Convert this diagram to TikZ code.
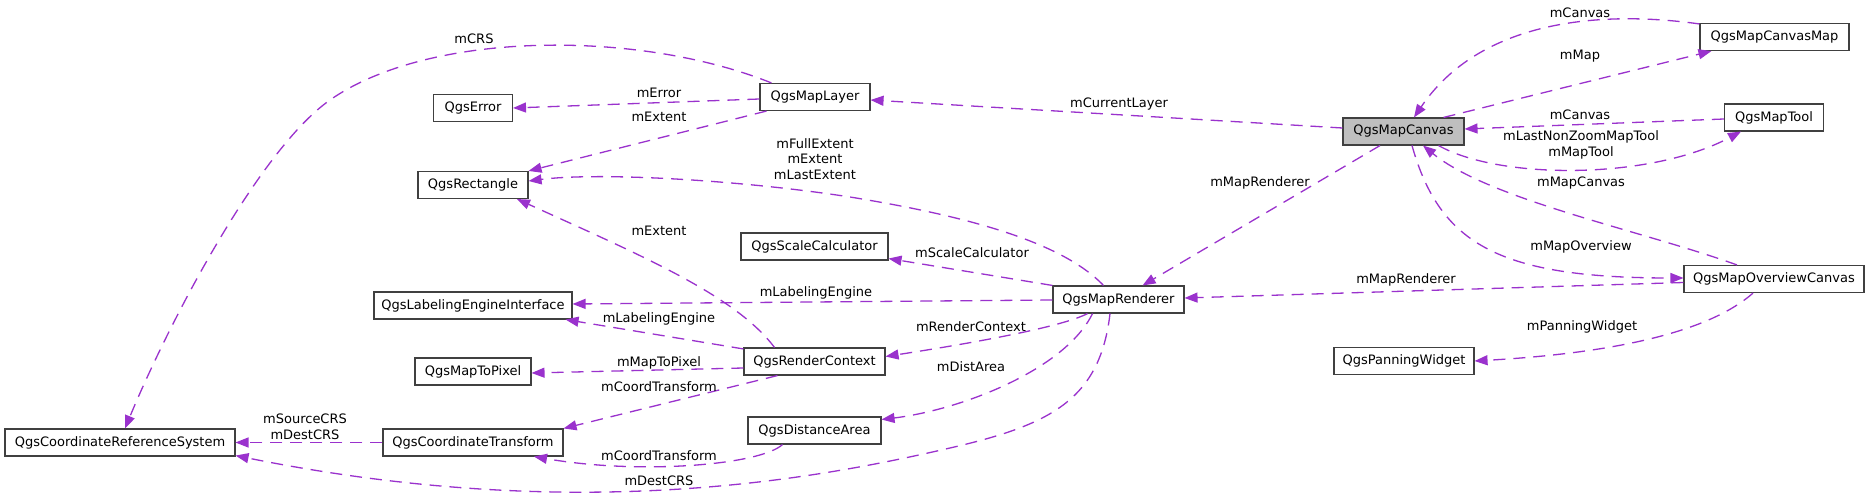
\documentclass[tikz,border=0pt]{standalone}
\usepackage{fontspec}
\setmainfont{DejaVu Sans}
\usetikzlibrary{arrows.meta,calc}
\definecolor{edgec}{HTML}{9A32CD}
\definecolor{boxc}{HTML}{404040}
\definecolor{mcfill}{HTML}{BFBFBF}
\begin{document}
\begin{tikzpicture}[x=1pt,y=-1pt,
  cls/.style={draw=boxc, fill=white, line width=1.1pt, minimum height=27pt, inner sep=0pt, font=\fontsize{13}{15.5}\selectfont, text=black},
  use/.style={draw=edgec, line width=1.3pt, dash pattern=on 12pt off 8pt, -{Triangle[length=13pt,width=10pt,fill=edgec]}},
  lbl/.style={font=\fontsize{13}{15.5}\selectfont, align=center, inner sep=0pt, text=black}
]
\useasboundingbox[fill=white] (0,0) rectangle (1869,500);

% classes
\node[cls, minimum width=230pt] (crs) at (120,442.5) {QgsCoordinateReferenceSystem};
\node[cls, minimum width=79pt] (err) at (473,108) {QgsError};
\node[cls, minimum width=110pt] (rect) at (473,185) {QgsRectangle};
\node[cls, minimum width=198pt] (lei) at (473,305.5) {QgsLabelingEngineInterface};
\node[cls, minimum width=116pt] (m2p) at (473,371.5) {QgsMapToPixel};
\node[cls, minimum width=180pt] (ct) at (473,442.5) {QgsCoordinateTransform};
\node[cls, minimum width=110pt] (ml) at (815,97) {QgsMapLayer};
\node[cls, minimum width=147pt] (sc) at (814.5,246.5) {QgsScaleCalculator};
\node[cls, minimum width=141pt] (rc) at (814.5,361.5) {QgsRenderContext};
\node[cls, minimum width=133pt] (da) at (814.5,430.5) {QgsDistanceArea};
\node[cls, minimum width=131pt] (mr) at (1118.5,299.5) {QgsMapRenderer};
\node[cls, minimum width=121pt, fill=mcfill] (mc) at (1403.5,131.5) {QgsMapCanvas};
\node[cls, minimum width=140pt] (pw) at (1404,361) {QgsPanningWidget};
\node[cls, minimum width=149pt] (mcm) at (1774.5,37) {QgsMapCanvasMap};
\node[cls, minimum width=99pt] (mt) at (1774,117.5) {QgsMapTool};
\node[cls, minimum width=180pt] (moc) at (1774,279) {QgsMapOverviewCanvas};

% connectors
\draw[use] ($(ml.north west)+(12,0)$) .. controls (640,30) and (430,30) .. (330,100) .. controls (260,149) and (170,320) .. ($(crs.north)+(5,0)$);
\node[lbl] (l1) at (474,39) {mCRS};

\draw[use] ($(ml.west)+(0,2)$) -- (err.east);
\node[lbl] (l2) at (659,93) {mError};

\draw[use] ($(ml.south west)+(7,0)$) -- (rect.north east);
\node[lbl] (l3) at (659,117) {mExtent};

\draw[use] ($(mc.west)+(0,-3.5)$) -- ($(ml.east)+(0,3)$);
\node[lbl] (l4) at (1119,104) {mCurrentLayer};

\draw[use] ($(mr.north)+(-15,0)$) .. controls (1060,240) and (960,215) .. (850,197) .. controls (740,180) and (600,172) .. ($(rect.east)+(0,-4)$);
\node[lbl] (l5) at (815,159) {mFullExtent\\mExtent\\mLastExtent};

\draw[use] ($(rc.north)+(-40,0)$) .. controls (735,295) and (640,255) .. ($(rect.south)+(44,0)$);
\node[lbl] (l6) at (659,231) {mExtent};

\draw[use] (mr.north west) -- ($(sc.south east)+(0,-2)$);
\node[lbl] (l7) at (972,253) {mScaleCalculator};

\draw[use] ($(mr.west)+(0,0.5)$) -- ($(lei.east)+(0,-1.5)$);
\node[lbl] (l8) at (816,293) {mLabelingEngine};

\draw[use] ($(rc.north west)+(0,1.5)$) -- ($(lei.south east)+(-7,0)$);
\node[lbl] (l9) at (659,319) {mLabelingEngine};

\draw[use] ($(mr.south)+(-31,0)$) .. controls (1060,328) and (960,345) .. ($(rc.east)+(0,-5)$);
\node[lbl] (l10) at (971,327) {mRenderContext};

\draw[use] ($(rc.west)+(0,6.5)$) -- ($(m2p.east)+(0,1.5)$);
\node[lbl] (l11) at (659,363) {mMapToPixel};

\draw[use] ($(rc.south)+(-37,0)$) -- (ct.north east);
\node[lbl] (l12) at (659,387) {mCoordTransform};

\draw[use] ($(mr.south)+(-26,0)$) .. controls (1065,370) and (960,410) .. ($(da.east)+(0,-11)$);
\node[lbl] (l13) at (971,367) {mDistArea};

\draw[use] ($(da.south)+(-32,0)$) .. controls (760,465) and (640,475) .. ($(ct.south)+(61,0)$);
\node[lbl] (l14) at (659,456) {mCoordTransform};

\draw[use] (ct.west) -- (crs.east);
\node[lbl] (l15) at (305,427) {mSourceCRS\\mDestCRS};

\draw[use] ($(mr.south)+(-8.5,0)$) .. controls (1100,400) and (1050,425) .. (950,448) .. controls (820,478) and (580,525) .. ($(crs.south east)+(0,-1)$);
\node[lbl] (l16) at (659,481) {mDestCRS};

\draw[use] ($(mc.south)+(-23.5,0)$) -- ($(mr.north east)+(-42,0)$);
\node[lbl] (l17) at (1260,183) {mMapRenderer};

\draw[use] ($(moc.west)+(0,3.5)$) -- ($(mr.east)+(0,-1.5)$);
\node[lbl] (l18) at (1406,280) {mMapRenderer};

\draw[use] ($(mc.south)+(8.5,0)$) .. controls (1440,245) and (1500,278) .. ($(moc.west)+(0,-1)$);
\node[lbl] (l19) at (1581,247) {mMapOverview};

\draw[use] ($(moc.north)+(-37,0)$) .. controls (1640,230) and (1490,200) .. ($(mc.south)+(19.5,0)$);
\node[lbl] (l20) at (1581,183) {mMapCanvas};

\draw[use] ($(mcm.north west)+(0,1)$) .. controls (1600,10) and (1480,20) .. ($(mc.north)+(10.5,0)$);
\node[lbl] (l21) at (1580,13) {mCanvas};

\draw[use] ($(mc.north east)+(-21,0)$) -- ($(mcm.south west)+(12,0)$);
\node[lbl] (l22) at (1580,56) {mMap};

\draw[use] ($(mt.west)+(0,1.5)$) -- ($(mc.east)+(0,-2.5)$);
\node[lbl] (l23) at (1580,115) {mCanvas};

\draw[use] ($(mc.south east)+(-26,0)$) .. controls (1500,180) and (1650,180) .. ($(mt.south)+(-33,0)$);
\node[lbl] (l24) at (1581,145) {mLastNonZoomMapTool\\mMapTool};

\draw[use] ($(moc.south)+(-21,0)$) .. controls (1700,340) and (1580,355) .. (pw.east);
\node[lbl] (l25) at (1582,327) {mPanningWidget};
\end{tikzpicture}
\end{document}
